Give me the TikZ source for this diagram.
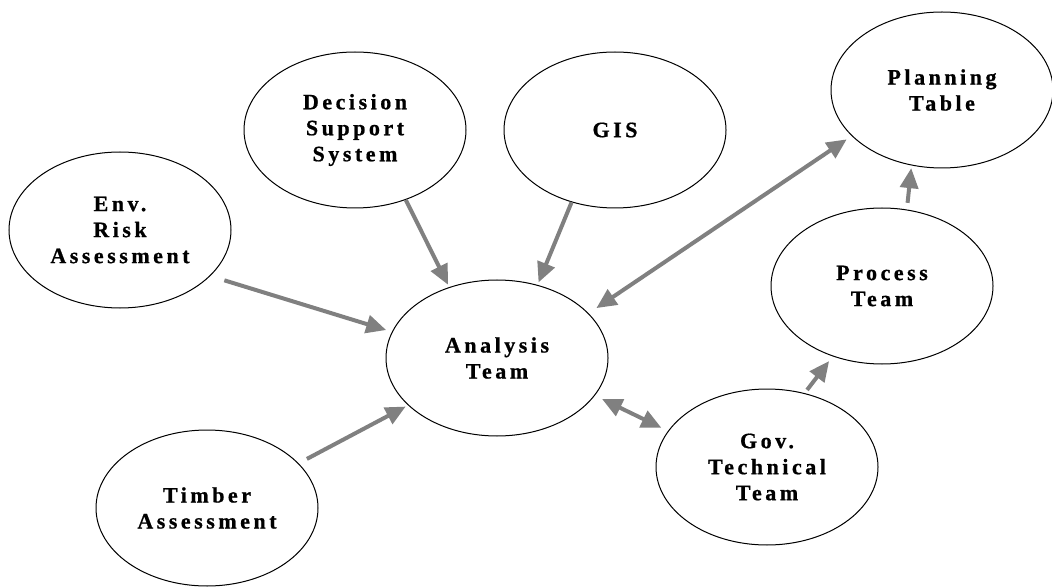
\documentclass[tikz,border=0pt]{standalone}
\usepackage{fontspec}
\setmainfont{Liberation Serif}
\newfontfamily\bubblefont{Liberation Serif}[UprightFont=* Bold,LetterSpace=16,FakeBold=0.8]
\usetikzlibrary{shapes.geometric,arrows.meta}
\definecolor{flowgray}{RGB}{128,128,128}

\begin{document}
\begin{tikzpicture}[x=0.75pt,y=0.75pt,
		bubble/.style={ellipse,draw=black,line width=0.75pt,minimum width=166.5pt,minimum height=117pt,inner sep=0pt,align=center,font=\bubblefont\fontsize{16.5}{19.5}\selectfont},
		flowtip/.tip={Triangle[length=15pt,width=13.5pt]},
		flow/.style={draw=flowgray,line width=3pt,-flowtip},
		twoway/.style={flow,flowtip-flowtip}]
		\useasboundingbox (0,0) rectangle (1052,586);

		% Ovals
		\node[bubble] (env) at (120,356) {Env.\\Risk\\Assessment};
		\node[bubble] (dss) at (355,456) {Decision\\Support\\System};
		\node[bubble] (gis) at (615,456) {GIS};
		\node[bubble] (plan) at (942,496) {Planning\\Table};
		\node[bubble] (proc) at (882,300) {Process\\Team};
		\node[bubble] (at) at (497,228) {Analysis\\Team};
		\node[bubble] (gov) at (767,119) {Gov.\\Technical\\Team};
		\node[bubble] (timber) at (207,78) {Timber\\Assessment};

		% Inputs to the analysis team
		\draw[flow,shorten <=11pt,shorten >=4.5pt] (env.-27) -- (at.166);
		\draw[flow,shorten >=2pt] (dss.-54) -- (at.124);
		\draw[flow,shorten >=2pt] (gis.-121) -- (at.61);
		\draw[flow,shorten <=7pt,shorten >=2pt] (timber.26) -- (at.208);

		% Two-way links
		\draw[twoway,shorten <=7pt,shorten >=4.5pt] (at.26) -- (plan.207);
		\draw[twoway,shorten <=6pt,shorten >=5.5pt] (at.-21) -- (gov.160);

		% Up the chain to the planning table
		\draw[flow,shorten <=3pt,shorten >=4.5pt] (gov.63) -- (proc.235);
		\draw[flow,shorten <=5pt,shorten >=2pt] (proc.72) -- (plan.248);

	\end{tikzpicture}
\end{document}
